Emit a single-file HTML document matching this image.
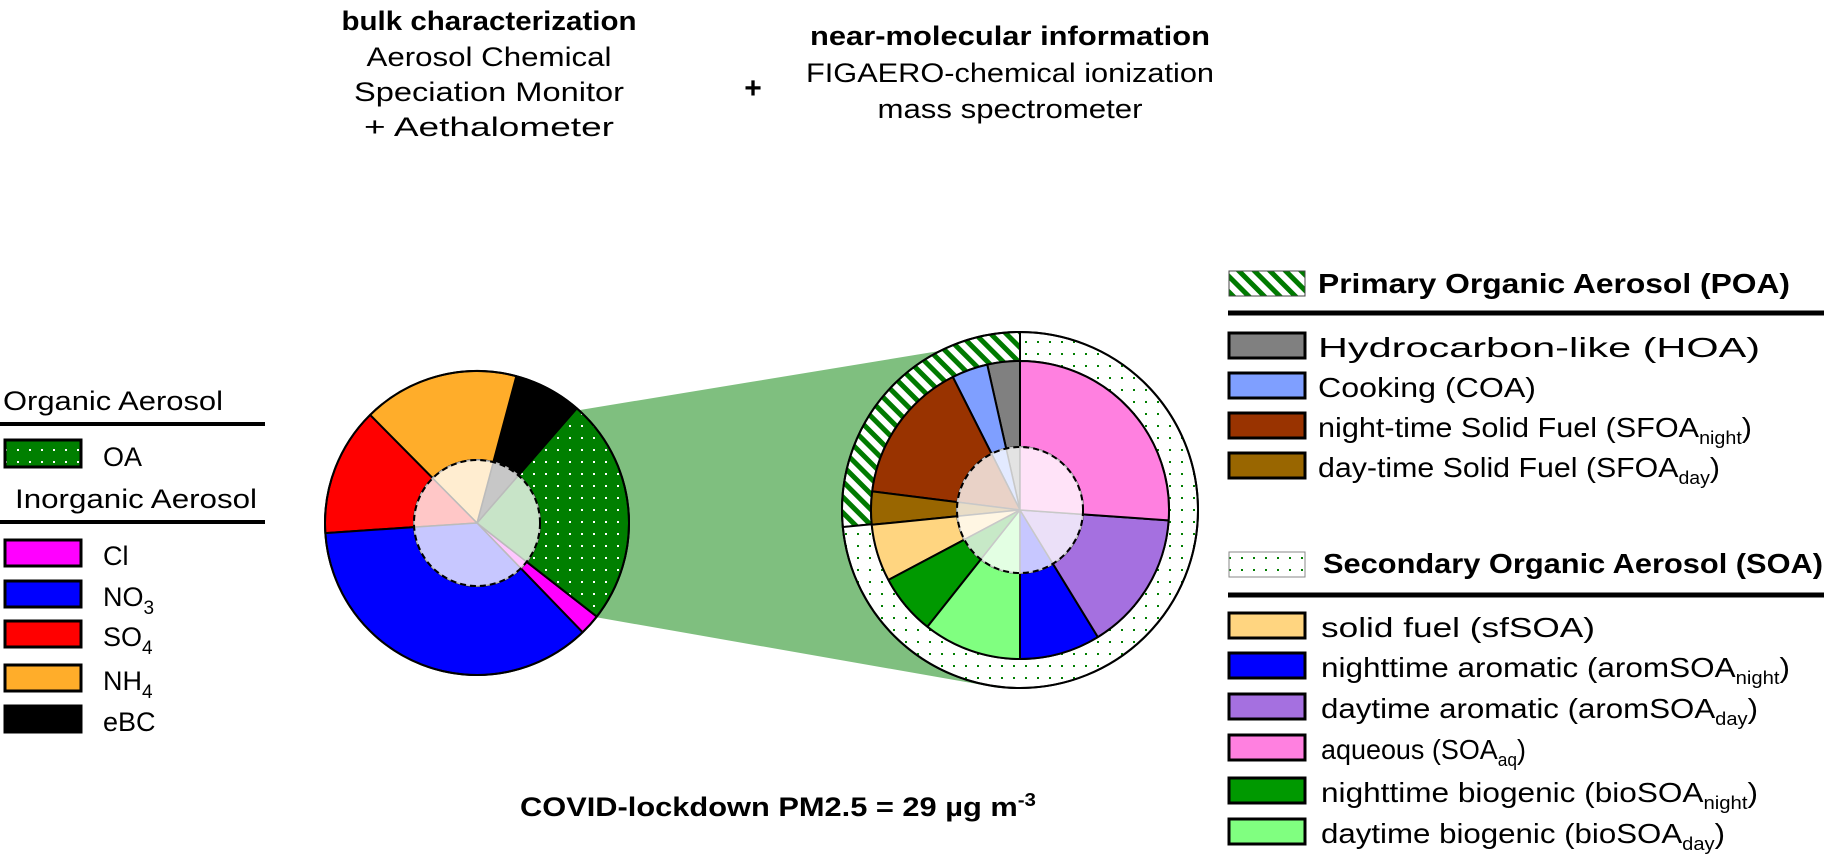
<!DOCTYPE html>
<html><head><meta charset="utf-8"><style>
html,body{margin:0;padding:0;background:#fff;}
svg{display:block;font-family:"Liberation Sans",sans-serif;}
</style></head><body>
<svg id="s" width="1831" height="856" viewBox="0 0 1831 856" xmlns="http://www.w3.org/2000/svg">
<defs>
<pattern id="dotsW" width="12" height="12" patternUnits="userSpaceOnUse"><rect width="12" height="12" fill="#007f00"/><rect x="5" y="5" width="2" height="2" fill="#fff"/></pattern>
<pattern id="dotsG" width="12" height="12" patternUnits="userSpaceOnUse"><rect width="12" height="12" fill="#fff"/><rect x="5" y="5" width="2" height="2" fill="#007f00"/></pattern>
<pattern id="hatch" width="11" height="11" patternUnits="userSpaceOnUse" patternTransform="rotate(-45)"><rect width="11" height="11" fill="#fff"/><rect width="5" height="11" fill="#007a00"/></pattern>
</defs>
<g font-size="27" text-anchor="middle">
<text x="489" y="30" font-weight="bold" textLength="295" lengthAdjust="spacingAndGlyphs">bulk characterization</text>
<text x="489" y="66" textLength="245" lengthAdjust="spacingAndGlyphs">Aerosol Chemical</text>
<text x="489" y="101" textLength="270" lengthAdjust="spacingAndGlyphs">Speciation Monitor</text>
<text x="489" y="136" textLength="250" lengthAdjust="spacingAndGlyphs">+ Aethalometer</text>
<text x="753" y="98" font-weight="bold" font-size="30">+</text>
<text x="1010" y="45" font-weight="bold" textLength="400" lengthAdjust="spacingAndGlyphs">near-molecular information</text>
<text x="1010" y="82" textLength="408" lengthAdjust="spacingAndGlyphs">FIGAERO-chemical ionization</text>
<text x="1010" y="118" textLength="265" lengthAdjust="spacingAndGlyphs">mass spectrometer</text>
<text x="778" y="816" font-weight="bold" textLength="516" lengthAdjust="spacingAndGlyphs">COVID-lockdown PM2.5 = 29 µg m<tspan dy="-10" font-size="18">-3</tspan></text>
</g>
<polygon points="574,411 1000,341 1000,688 595,617" fill="#7fbf7f"/>
<g id="pies"></g>
<g font-size="27" stroke-width="3">
<text x="3" y="410" textLength="220" lengthAdjust="spacingAndGlyphs">Organic Aerosol</text>
<line x1="0" y1="424" x2="265" y2="424" stroke="#000" stroke-width="4"/>
<rect x="5" y="440" width="76" height="27" fill="url(#dotsW)" stroke="#000"/>
<text x="103" y="466">OA</text>
<text x="15" y="508" textLength="242" lengthAdjust="spacingAndGlyphs">Inorganic Aerosol</text>
<line x1="0" y1="522" x2="265" y2="522" stroke="#000" stroke-width="4"/>
<rect x="5" y="540" width="76" height="26" fill="#ff00ff" stroke="#000"/><text x="103" y="565">Cl</text>
<rect x="5" y="581" width="76" height="26" fill="#0000ff" stroke="#000"/><text x="103" y="606">NO<tspan dy="8" font-size="19">3</tspan></text>
<rect x="5" y="621" width="76" height="26" fill="#ff0000" stroke="#000"/><text x="103" y="646">SO<tspan dy="8" font-size="19">4</tspan></text>
<rect x="5" y="665" width="76" height="26" fill="#ffad2a" stroke="#000"/><text x="103" y="690">NH<tspan dy="8" font-size="19">4</tspan></text>
<rect x="5" y="706" width="76" height="26" fill="#000" stroke="#000"/><text x="103" y="731">eBC</text>
</g>
<g font-size="28" stroke-width="3">
<rect x="1229" y="271" width="76" height="25" fill="url(#hatch)" stroke="#444" stroke-width="1"/>
<text x="1318" y="293" font-weight="bold" textLength="472" lengthAdjust="spacingAndGlyphs">Primary Organic Aerosol (POA)</text>
<line x1="1228" y1="313" x2="1824" y2="313" stroke="#000" stroke-width="5"/>
<rect x="1229" y="333" width="76" height="25" fill="#808080" stroke="#000"/><text x="1318" y="357" textLength="442" lengthAdjust="spacingAndGlyphs">Hydrocarbon-like (HOA)</text>
<rect x="1229" y="373" width="76" height="25" fill="#7f9fff" stroke="#000"/><text x="1318" y="397" textLength="218" lengthAdjust="spacingAndGlyphs">Cooking (COA)</text>
<rect x="1229" y="413" width="76" height="25" fill="#993300" stroke="#000"/><text x="1318" y="437" textLength="434" lengthAdjust="spacingAndGlyphs">night-time Solid Fuel (SFOA<tspan dy="7" font-size="18">night</tspan><tspan dy="-7">)</tspan></text>
<rect x="1229" y="453" width="76" height="25" fill="#996600" stroke="#000"/><text x="1318" y="477" textLength="402" lengthAdjust="spacingAndGlyphs">day-time Solid Fuel (SFOA<tspan dy="7" font-size="18">day</tspan><tspan dy="-7">)</tspan></text>
<rect x="1229" y="552" width="76" height="25" fill="url(#dotsG)" stroke="#888" stroke-width="1"/>
<text x="1323" y="573" font-weight="bold" textLength="500" lengthAdjust="spacingAndGlyphs">Secondary Organic Aerosol (SOA)</text>
<line x1="1228" y1="595" x2="1824" y2="595" stroke="#000" stroke-width="5"/>
<rect x="1229" y="613" width="76" height="25" fill="#ffd580" stroke="#000"/><text x="1321" y="637" textLength="274" lengthAdjust="spacingAndGlyphs">solid fuel (sfSOA)</text>
<rect x="1229" y="653" width="76" height="25" fill="#0000ff" stroke="#000"/><text x="1321" y="677" textLength="469" lengthAdjust="spacingAndGlyphs">nighttime aromatic (aromSOA<tspan dy="7" font-size="18">night</tspan><tspan dy="-7">)</tspan></text>
<rect x="1229" y="694" width="76" height="25" fill="#a570e0" stroke="#000"/><text x="1321" y="718" textLength="437" lengthAdjust="spacingAndGlyphs">daytime aromatic (aromSOA<tspan dy="7" font-size="18">day</tspan><tspan dy="-7">)</tspan></text>
<rect x="1229" y="735" width="76" height="25" fill="#ff80e0" stroke="#000"/><text x="1321" y="759" textLength="205" lengthAdjust="spacingAndGlyphs">aqueous (SOA<tspan dy="7" font-size="18">aq</tspan><tspan dy="-7">)</tspan></text>
<rect x="1229" y="778" width="76" height="25" fill="#009900" stroke="#000"/><text x="1321" y="802" textLength="437" lengthAdjust="spacingAndGlyphs">nighttime biogenic (bioSOA<tspan dy="7" font-size="18">night</tspan><tspan dy="-7">)</tspan></text>
<rect x="1229" y="819" width="76" height="25" fill="#80ff80" stroke="#000"/><text x="1321" y="843" textLength="404" lengthAdjust="spacingAndGlyphs">daytime biogenic (bioSOA<tspan dy="7" font-size="18">day</tspan><tspan dy="-7">)</tspan></text>
</g>
</svg>
<script>
(function(){
var g=document.getElementById('pies'),NS='http://www.w3.org/2000/svg';
function pt(cx,cy,r,a){a=a*Math.PI/180;return [cx+r*Math.cos(a),cy-r*Math.sin(a)];}
function sector(cx,cy,r0,r1,a1,a2,fill,stroke,sw){
 var p=pt(cx,cy,r1,a1),q=pt(cx,cy,r1,a2),large=(a2-a1)>180?1:0,d;
 if(r0<=0){d='M'+cx+','+cy+'L'+p+'A'+r1+','+r1+' 0 '+large+' 0 '+q+'Z';}
 else{var p0=pt(cx,cy,r0,a2),q0=pt(cx,cy,r0,a1);
 d='M'+p+'A'+r1+','+r1+' 0 '+large+' 0 '+q+'L'+p0+'A'+r0+','+r0+' 0 '+large+' 1 '+q0+'Z';}
 var e=document.createElementNS(NS,'path');e.setAttribute('d',d);e.setAttribute('fill',fill);
 e.setAttribute('stroke',stroke);e.setAttribute('stroke-width',sw);e.setAttribute('stroke-linejoin','round');g.appendChild(e);}
function circ(cx,cy,r,dash){var e=document.createElementNS(NS,'circle');e.setAttribute('cx',cx);e.setAttribute('cy',cy);e.setAttribute('r',r);
 e.setAttribute('fill','none');e.setAttribute('stroke','#000');e.setAttribute('stroke-width',2);if(dash)e.setAttribute('stroke-dasharray','6 4');g.appendChild(e);}
function pale(c){if(c.indexOf('url')==0)return c;var r=parseInt(c.substr(1,2),16),gg=parseInt(c.substr(3,2),16),b=parseInt(c.substr(5,2),16);
 function m(v){return Math.round(v*0.22+255*0.78);}return 'rgb('+m(r)+','+m(gg)+','+m(b)+')';}
var L=[[-46,-38,'#ff00ff'],[-38,49,'url(#dotsW)'],[49,75,'#000000'],[75,134.7,'#ffad2a'],[134.7,183.8,'#ff0000'],[183.8,314,'#0000ff']];
var cx=477,cy=523,R=152,r=63;
L.forEach(function(s){sector(cx,cy,r,R,s[0],s[1],s[2],'#000',2);});
L.forEach(function(s){var f=s[2]=='url(#dotsW)'?'#c8e4c8':pale(s[2]);sector(cx,cy,0,r,s[0],s[1],f,'#bbb',1.5);});
circ(cx,cy,R,false);circ(cx,cy,r,true);
var X=1020,Y=510,RO=178,RM=149,RI=63;
sector(X,Y,RM,RO,90,185.5,'url(#hatch)','#000',2);
sector(X,Y,RM,RO,185.5,450,'url(#dotsG)','#000',2);
var P=[[90,102.7,'#808080'],[102.7,116.8,'#7f9fff'],[116.8,172.8,'#993300'],[172.8,185.7,'#996600'],[185.7,208,'#ffd580'],[208,231.6,'#009900'],[231.6,270,'#80ff80'],[270,301.5,'#0000ff'],[301.5,356,'#a570e0'],[356,450,'#ff80e0']];
P.forEach(function(s){sector(X,Y,RI,RM,s[0],s[1],s[2],'#000',2);});
P.forEach(function(s){sector(X,Y,0,RI,s[0],s[1],pale(s[2]),'#c8c8c8',1.5);});
circ(X,Y,RO,false);circ(X,Y,RI,true);
})();
</script>
</body></html>
